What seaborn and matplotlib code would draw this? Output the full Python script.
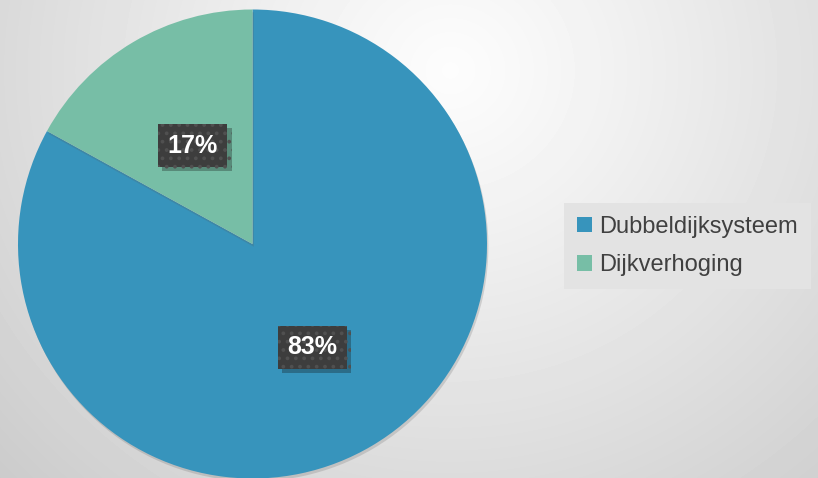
import numpy as np
import matplotlib
matplotlib.use("Agg")
import matplotlib.pyplot as plt
import matplotlib.patheffects as pe
import seaborn as sns

labels = ["Dubbeldijksysteem", "Dijkverhoging"]
values = [83, 17]
colors = ["#3794BC", "#77BEA6"]

sns.set_theme(style="white")
plt.rcParams["font.family"] = ["Liberation Sans Narrow", "Liberation Sans", "DejaVu Sans"]
plt.rcParams["hatch.linewidth"] = 1.5

W, H = 818, 478
fig = plt.figure(figsize=(W / 100, H / 100), dpi=100)

# radial gradient background
bg = fig.add_axes([0, 0, 1, 1])
yy, xx = np.mgrid[0:H, 0:W]
d = np.hypot(xx - 450, (yy - 70) * 1.05) / 640
d = np.clip(d, 0, 1)
shade = 0.99 - 0.2 * d ** 1.1
bg.imshow(shade, cmap="gray", vmin=0, vmax=1, extent=[0, W, H, 0], aspect="auto")
bg.axis("off")

cx, cy, r = 252.5, 244, 234.5
ax = fig.add_axes([(cx - r) / W, (H - cy - r) / H, 2 * r / W, 2 * r / H])
wedges, texts, autotexts = ax.pie(
    values,
    colors=colors,
    startangle=90,
    counterclock=False,
    autopct="%1.0f%%",
    pctdistance=0.5,
    wedgeprops=dict(linewidth=0),
    textprops=dict(color="white", fontsize=18, fontweight="bold"),
)
for w in wedges:
    w.set_path_effects([pe.SimplePatchShadow(offset=(1, -2), alpha=0.2, shadow_rgbFace="#555555"), pe.Normal()])
for t in autotexts:
    t.set_va("center_baseline")
    t.set_bbox(dict(boxstyle="square,pad=0.38", facecolor="#3d3d3d", edgecolor="#505050",
                    linewidth=0, hatch=".."))
    t.get_bbox_patch().set_path_effects([pe.SimplePatchShadow(offset=(3, -3), alpha=0.3), pe.Normal()])
ax.set_xlim(-1, 1)
ax.set_ylim(-1, 1)
ax.axis("off")

leg = fig.legend(
    wedges, labels,
    loc="center left",
    bbox_to_anchor=(564 / W, 1 - 246 / H),
    frameon=True,
    fancybox=False,
    facecolor="#e3e3e3",
    edgecolor="none",
    framealpha=1,
    fontsize=17,
    handlelength=0.65,
    handleheight=0.65,
    handletextpad=0.3,
    labelspacing=0.7,
    borderpad=0.55,
    borderaxespad=0,
)
for h in leg.legend_handles:
    h.set_path_effects([])
for t in leg.get_texts():
    t.set_color("#404040")

fig.savefig("out.png", dpi=100)
